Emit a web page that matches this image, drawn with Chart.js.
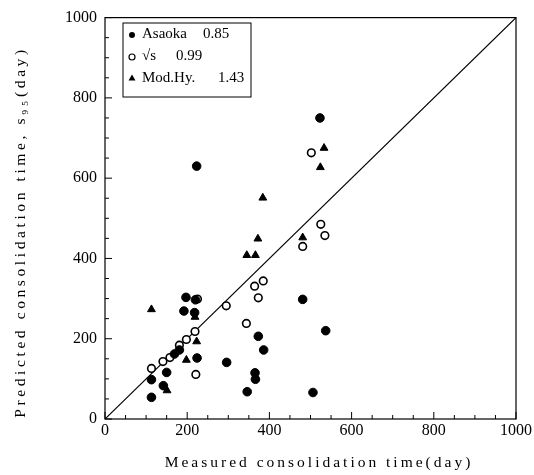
<!DOCTYPE html>
<html>
<head>
<meta charset="utf-8">
<script src="https://cdn.jsdelivr.net/npm/chart.js@4/dist/chart.umd.min.js"></script>
<style>
html,body{margin:0;padding:0;background:#fff;}
#wrap{width:534px;height:475px;position:relative;}
</style>
</head>
<body>
<div id="wrap"><canvas id="c" width="534" height="475"></canvas></div>
<script>
// ---- data ----
const asaokaX = [223, 197, 220, 192, 218, 373, 386, 113, 150, 169, 181, 224, 296, 142, 113, 365, 366, 346, 523, 481, 537, 506];
const asaokaY = [630, 303, 297, 269, 265, 206, 172,  98, 116, 162, 172, 152, 141,  83,  54, 115,  99,  68, 750, 298, 220,  66];

const sqrtX = [225, 113, 141, 158, 181, 198, 219, 221, 295, 344, 364, 373, 385, 502, 525, 535, 481];
const sqrtY = [299, 126, 143, 153, 184, 198, 218, 111, 282, 238, 331, 302, 344, 663, 485, 457, 430];

const modX = [384, 372, 345, 366, 113, 219, 223, 198, 151, 533, 524, 481];
const modY = [551, 449, 408, 408, 273, 254, 193, 147,  71, 675, 627, 452];

const lineX = [0, 1000];
const lineY = [0, 1000];

const legendNames = ['Asaoka', '\u221As', 'Mod.Hy.'];
const legendValues = ['0.85', '0.99', '1.43'];

const xTitle = 'Measured consolidation time(day)';
const yTitle = 'Predicted consolidation time, s\u2089\u2085(day)';

const tickValues = [0, 200, 400, 600, 800, 1000];

// ---- build ----
const pts = (xs, ys) => xs.map((x, i) => ({x: x, y: ys[i]}));
const SERIF = '"Liberation Serif", "DejaVu Serif", serif';

const framePlugin = {
  id: 'frame',
  beforeDatasetsDraw(chart) {
    const ctx = chart.ctx, a = chart.chartArea;
    const xs = chart.scales.x, ys = chart.scales.y;
    ctx.save();
    ctx.strokeStyle = '#000';
    ctx.lineWidth = 1.2;
    ctx.strokeRect(a.left, a.top, a.right - a.left, a.bottom - a.top);
    ctx.lineWidth = 1;
    for (let v = 0; v <= 1000; v += 50) {
      const len = (v % 200 === 0) ? 7 : 4;
      const px = xs.getPixelForValue(v);
      ctx.beginPath(); ctx.moveTo(px, a.bottom); ctx.lineTo(px, a.bottom - len); ctx.stroke();
      const py = ys.getPixelForValue(v);
      ctx.beginPath(); ctx.moveTo(a.left, py); ctx.lineTo(a.left + len, py); ctx.stroke();
    }
    ctx.restore();
  },
  afterDraw(chart) {
    const ctx = chart.ctx;
    ctx.save();
    ctx.fillStyle = '#000';
    ctx.textBaseline = 'middle';
    // axis titles
    ctx.font = '15.5px ' + SERIF;
    ctx.letterSpacing = '3px';
    ctx.textAlign = 'center';
    ctx.fillText(xTitle, 319, 463);
    ctx.save();
    ctx.translate(21, 232);
    ctx.rotate(-Math.PI / 2);
    ctx.letterSpacing = '3.6px';
    ctx.fillText(yTitle, 0, 0);
    ctx.restore();
    ctx.letterSpacing = '0px';
    // legend box
    const bx = 123, by = 23, bw = 128, bh = 74;
    ctx.lineWidth = 1;
    ctx.strokeStyle = '#000';
    ctx.fillStyle = '#fff';
    ctx.fillRect(bx, by, bw, bh);
    ctx.strokeRect(bx, by, bw, bh);
    ctx.fillStyle = '#000';
    ctx.font = '15px ' + SERIF;
    ctx.textAlign = 'left';
    const rows = [34, 56, 78];
    const valX = [203, 176, 218];
    const styles = chart.data.datasets.slice(0, 3);
    rows.forEach((ry, i) => {
      const ds = styles[i];
      const mx = 132;
      ctx.beginPath();
      if (ds.pointStyle === 'triangle') {
        ctx.moveTo(mx, ry - 3.5); ctx.lineTo(mx + 3.5, ry + 2.5); ctx.lineTo(mx - 3.5, ry + 2.5); ctx.closePath();
        ctx.fill();
      } else if (ds.backgroundColor === '#000') {
        ctx.arc(mx, ry + 1, 3, 0, Math.PI * 2); ctx.fill();
      } else {
        ctx.arc(mx, ry + 1, 3, 0, Math.PI * 2); ctx.lineWidth = 1.2; ctx.stroke();
      }
      ctx.fillText(legendNames[i], 142, ry);
      ctx.fillText(legendValues[i], valX[i], ry);
    });
    ctx.restore();
  }
};

new Chart(document.getElementById('c'), {
  type: 'scatter',
  data: {
    datasets: [
      {label: legendNames[0], data: pts(asaokaX, asaokaY), pointStyle: 'circle', pointRadius: 4.3,
       backgroundColor: '#000', borderColor: '#000', borderWidth: 1},
      {label: legendNames[1], data: pts(sqrtX, sqrtY), pointStyle: 'circle', pointRadius: 3.8,
       backgroundColor: '#fff', borderColor: '#000', borderWidth: 1.6},
      {label: legendNames[2], data: pts(modX, modY), pointStyle: 'triangle', pointRadius: 4.5,
       backgroundColor: '#000', borderColor: '#000', borderWidth: 1},
      {type: 'line', label: 'line', data: pts(lineX, lineY), borderColor: '#000', borderWidth: 1.2,
       pointRadius: 0, fill: false, order: 5}
    ]
  },
  options: {
    responsive: false,
    animation: false,
    layout: {padding: {left: 0, right: 15, top: 7, bottom: 0}},
    plugins: {legend: {display: false}, tooltip: {enabled: false}},
    scales: {
      x: {
        type: 'linear', min: 0, max: 1000,
        afterBuildTicks: s => { s.ticks = tickValues.map(v => ({value: v})); },
        afterFit: s => { s.height = 56; },
        ticks: {color: '#000', font: {family: SERIF, size: 16}, padding: 2, maxRotation: 0,
                callback: v => String(v)},
        grid: {display: false, drawTicks: false},
        border: {display: false},
        title: {display: false}
      },
      y: {
        type: 'linear', min: 0, max: 1000,
        afterBuildTicks: s => { s.ticks = tickValues.map(v => ({value: v})); },
        afterFit: s => { s.width = 105; },
        ticks: {color: '#000', font: {family: SERIF, size: 16}, padding: 8,
                callback: v => String(v)},
        grid: {display: false, drawTicks: false},
        border: {display: false},
        title: {display: false}
      }
    }
  },
  plugins: [framePlugin]
});
</script>
</body>
</html>
